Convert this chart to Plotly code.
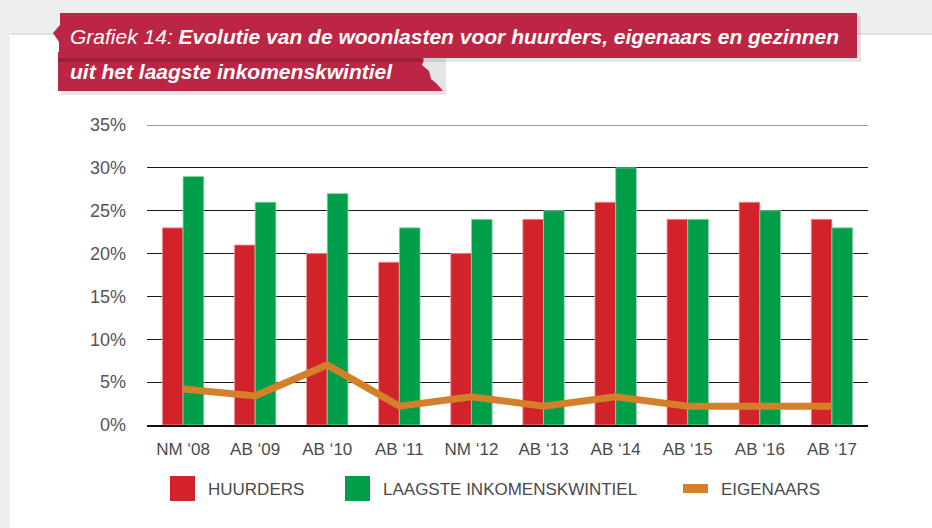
import plotly.graph_objects as go

categories = ["NM ‘08", "AB ‘09", "AB ‘10", "AB ‘11", "NM ‘12", "AB ‘13", "AB ‘14", "AB ‘15", "AB ‘16", "AB ‘17"]
huurders = [23, 21, 20, 19, 20, 24, 26, 24, 26, 24]
laagste_kwintiel = [29, 26, 27, 23, 24, 25, 30, 24, 25, 23]
eigenaars = [4.2, 3.4, 7.0, 2.2, 3.3, 2.2, 3.3, 2.2, 2.2, 2.2]
y_ticks = [0, 5, 10, 15, 20, 25, 30, 35]
y_tick_labels = ["0%", "5%", "10%", "15%", "20%", "25%", "30%", "35%"]

W, H = 932, 528
L, R, T, B = 147, 932 - 868, 125, 528 - 425
PW, PH = W - L - R, H - T - B

RED = "#D2232A"
GREEN = "#009E49"
ORANGE = "#D47F2A"
BANNER = "#BC2543"
TXT = "#4a4a4a"


def X(px):
    return (px - L) / PW


def Y(py):
    return (H - B - py) / PH


def path(pts):
    s = "M " + " L ".join(f"{X(a):.5f},{Y(b):.5f}" for a, b in pts) + " Z"
    return s


fig = go.Figure()
fig.add_trace(go.Bar(x=categories, y=huurders, name="HUURDERS",
                     marker=dict(color=RED, line=dict(color="#EBA0A3", width=0.8))))
fig.add_trace(go.Bar(x=categories, y=laagste_kwintiel, name="LAAGSTE INKOMENSKWINTIEL",
                     marker=dict(color=GREEN, line=dict(color="#8ED4AC", width=0.8))))
fig.add_trace(go.Scatter(x=categories, y=eigenaars, name="EIGENAARS", mode="lines",
                         line=dict(color=ORANGE, width=7)))

shapes = []
# white card on grey page
shapes.append(dict(type="rect", xref="paper", yref="paper", x0=X(10), x1=X(940), y0=Y(35), y1=Y(540),
                   fillcolor="white", line=dict(width=0), layer="below"))
shapes.append(dict(type="rect", xref="paper", yref="paper", x0=X(10), x1=X(940), y0=Y(33), y1=Y(35),
                   fillcolor="rgba(0,0,0,0.05)", line=dict(width=0), layer="below"))
# banner shadows
shapes.append(dict(type="path", xref="paper", yref="paper",
                   path=path([(61, 56), (446, 56), (446, 95), (61, 95)]),
                   fillcolor="rgba(0,0,0,0.10)", line=dict(width=0), layer="below"))
shapes.append(dict(type="path", xref="paper", yref="paper",
                   path=path([(62, 16), (861, 16), (861, 62), (62, 62)]),
                   fillcolor="rgba(0,0,0,0.10)", line=dict(width=0), layer="below"))
# banner 2
shapes.append(dict(type="path", xref="paper", yref="paper",
                   path=path([(58, 52), (420, 52), (424, 60), (422, 65), (429, 71), (431, 79),
                              (437, 84), (443, 91), (58, 91)]),
                   fillcolor=BANNER, line=dict(width=0), layer="above"))
shapes.append(dict(type="rect", xref="paper", yref="paper", x0=X(58), x1=X(422), y0=Y(58), y1=Y(62),
                   fillcolor="rgba(0,0,0,0.18)", line=dict(width=0), layer="above"))
# banner 1
shapes.append(dict(type="path", xref="paper", yref="paper",
                   path=path([(60, 13), (857, 13), (857, 58), (59, 58), (59, 42), (53, 33), (60, 25)]),
                   fillcolor=BANNER, line=dict(width=0), layer="above"))
# top gridline in grey
shapes.append(dict(type="line", xref="paper", yref="y", x0=0, x1=1, y0=35, y1=35,
                   line=dict(color="#9a9a9a", width=2), layer="above"))

annotations = [
    dict(xref="paper", yref="paper", x=X(68), y=Y(36), xanchor="left", yanchor="middle", showarrow=False,
         text="<i>Grafiek 14: </i><b><i>Evolutie van de woonlasten voor huurders, eigenaars en gezinnen</i></b>",
         font=dict(family="Liberation Sans", size=21, color="white")),
    dict(xref="paper", yref="paper", x=X(68), y=Y(71), xanchor="left", yanchor="middle", showarrow=False,
         text="<b><i>uit het laagste inkomenskwintiel</i></b>",
         font=dict(family="Liberation Sans", size=21, color="white")),
]

# custom legend
legend_items = [("HUURDERS", RED, "box", 170), ("LAAGSTE INKOMENSKWINTIEL", GREEN, "box", 345),
                ("EIGENAARS", ORANGE, "line", 683)]
for label, col, kind, x0 in legend_items:
    if kind == "box":
        shapes.append(dict(type="rect", xref="paper", yref="paper", x0=X(x0), x1=X(x0 + 25),
                           y0=Y(476), y1=Y(501), fillcolor=col, line=dict(width=0)))
        tx = x0 + 36
    else:
        shapes.append(dict(type="rect", xref="paper", yref="paper", x0=X(x0), x1=X(x0 + 25),
                           y0=Y(484), y1=Y(493), fillcolor=col, line=dict(width=0)))
        tx = x0 + 36
    annotations.append(dict(xref="paper", yref="paper", x=X(tx), y=Y(489), xanchor="left", yanchor="middle",
                            showarrow=False, text=label,
                            font=dict(family="Liberation Sans", size=17, color=TXT)))

fig.update_layout(
    width=W, height=H,
    margin=dict(l=L, r=R, t=T, b=B, autoexpand=False),
    paper_bgcolor="#eeeeee",
    plot_bgcolor="rgba(0,0,0,0)",
    barmode="group",
    bargap=0.425,
    bargroupgap=0,
    showlegend=False,
    shapes=shapes,
    annotations=annotations,
    font=dict(family="Liberation Sans", color=TXT),
)
fig.update_xaxes(type="category", range=[-0.5, 9.5], showgrid=False, ticks="",
                 showline=True, linecolor="#111111", linewidth=1.5,
                 tickfont=dict(family="Liberation Sans", size=17, color=TXT),
                 ticklabelstandoff=8)
fig.update_yaxes(range=[0, 35], tickvals=y_ticks, ticktext=y_tick_labels,
                 showgrid=True, gridcolor="#1a1a1a", gridwidth=1, zeroline=False,
                 ticks="", tickfont=dict(family="Liberation Sans", size=18, color="#555555"),
                 ticklabelstandoff=20)

fig.write_html("out.html", config={"displayModeBar": False},
               post_script="document.body.style.margin='0px';document.body.style.overflow='hidden';")
